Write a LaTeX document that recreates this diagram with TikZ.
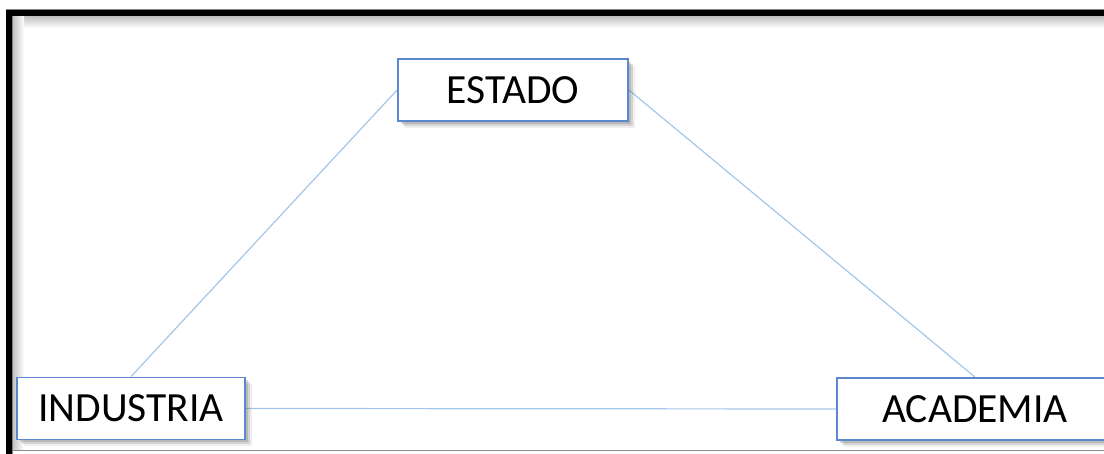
\documentclass[tikz,border=0pt]{standalone}
\usepackage{fontspec}
\setmainfont{Carlito}
\usetikzlibrary{shadows,backgrounds}
\definecolor{boxblue}{HTML}{5B87CF}
\definecolor{linkblue}{HTML}{A4C6E8}
\tikzset{
  actor/.style={draw=boxblue, line width=1.8pt, fill=white, minimum height=62pt,
    inner sep=0pt, font=\fontsize{41.5}{46}\selectfont,
    drop shadow={shadow xshift=3pt, shadow yshift=-3pt, opacity=0.25, fill=black!60},
    drop shadow={shadow xshift=5pt, shadow yshift=-5pt, opacity=0.2, fill=black!60},
    drop shadow={shadow xshift=7pt, shadow yshift=-7pt, opacity=0.1, fill=black!60}},
  link/.style={draw=linkblue, line width=1.2pt}
}
\begin{document}
\begin{tikzpicture}[x=1pt,y=1pt]
\useasboundingbox (0,0) rectangle (1104,454);
\clip (0,0) rectangle (1104,454);
% inner shadow of frame
\shade[top color=black!25, bottom color=white] (12,426) rectangle (1104,438);
\shade[left color=black!25, right color=white] (12,0) rectangle (24,438);
\fill[white] (12,0) rectangle (1104,3);
\draw[black!45, line width=1pt] (12,3) -- (1104,3);
% frame
\draw[black!50, line width=7pt] (9,-10) |- (1120,441);
\draw[black, line width=5.5pt] (9,-10) |- (1120,441);
% nodes
\node[actor, minimum width=230pt] (estado) at (513,364) {ESTADO};
\node[actor, minimum width=228pt] (industria) at (131,45.5) {INDUSTRIA};
\node[actor, minimum width=276pt] (academia) at (975,45) {ACADEMIA};
\begin{scope}[on background layer]
\draw[link] (estado.west) -- (industria.north);
\draw[link] (estado.east) -- (academia.north);
\draw[link] (industria.east) -- (academia.west);
\end{scope}
\end{tikzpicture}
\end{document}
